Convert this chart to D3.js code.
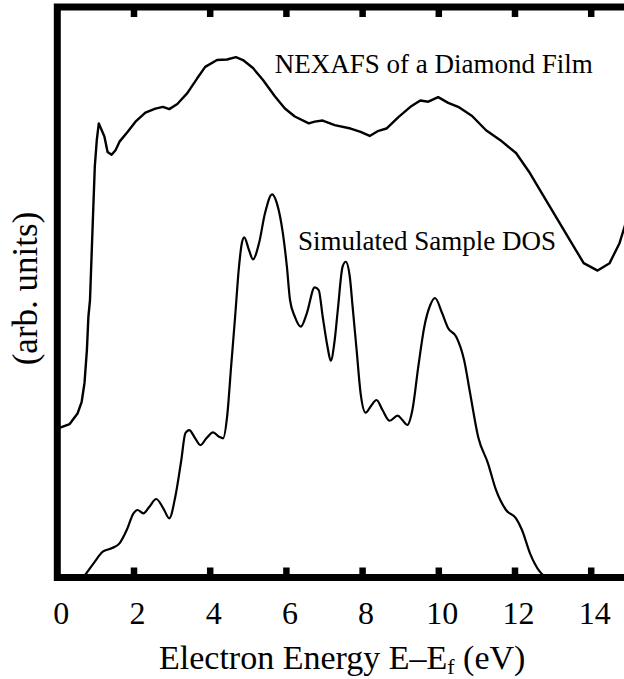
<!DOCTYPE html>
<html>
<head>
<meta charset="utf-8">
<script src="https://cdn.jsdelivr.net/npm/d3@7"></script>
<style>
  html, body { margin: 0; padding: 0; background: #fff; }
  svg { display: block; }
  text { font-family: "Liberation Serif", "Times New Roman", serif; fill: #000; }
</style>
</head>
<body>
<div id="chart"></div>
<script>
// ---- Data ----
const tickValuesX = [2, 4, 6, 8, 10, 12, 14];
const tickLabelsX = [0, 2, 4, 6, 8, 10, 12, 14];

// NEXAFS spectrum: energy (eV), intensity (arb.)
const nexafsE = [0, 0.325, 0.535, 0.64, 0.714, 0.777, 0.816, 0.858, 0.921, 0.984, 1.037, 1.089, 1.236, 1.32, 1.425, 1.528, 1.633, 1.843, 2.052, 2.312, 2.575, 2.774, 2.94, 3.15, 3.412, 3.672, 3.882, 4.192, 4.454, 4.688, 4.874, 5.136, 5.399, 5.714, 5.974, 6.234, 6.601, 6.756, 6.966, 7.281, 7.698, 7.961, 8.199, 8.43, 8.64, 8.953, 9.268, 9.528, 9.738, 9.997, 10.26, 10.522, 10.887, 11.252, 11.62, 12.04, 12.404, 12.822, 13.136, 13.449, 13.816, 14.181, 14.496, 14.756, 14.89, 15.03];
const nexafsI = [26.1, 26.9, 28.8, 30.8, 34.1, 39.9, 45.7, 48.6, 60.4, 72.0, 76.7, 79.6, 77.3, 74.6, 74.1, 74.9, 76.4, 78.1, 79.9, 81.5, 82.2, 82.5, 82.1, 83.0, 84.9, 87.5, 89.5, 90.7, 90.8, 91.2, 90.7, 89.3, 87.2, 84.3, 82.2, 80.8, 79.6, 79.9, 80.1, 79.3, 78.7, 78.1, 77.4, 78.3, 78.7, 80.7, 82.5, 83.6, 83.4, 84.2, 83.2, 82.5, 80.9, 78.4, 76.7, 74.4, 70.9, 66.2, 62.7, 59.2, 55.1, 53.8, 55.1, 58.6, 61.5, 64.4];

// Simulated sample DOS: energy (eV), intensity (arb.)
const dosE = [0.693, 0.953, 1.194, 1.425, 1.633, 1.822, 2.0, 2.105, 2.26, 2.417, 2.596, 2.782, 2.94, 3.097, 3.255, 3.36, 3.462, 3.619, 3.756, 3.913, 4.089, 4.247, 4.352, 4.457, 4.562, 4.667, 4.769, 4.843, 4.906, 5.031, 5.136, 5.294, 5.451, 5.638, 5.764, 5.921, 6.026, 6.108, 6.234, 6.391, 6.549, 6.756, 6.861, 6.966, 7.092, 7.176, 7.281, 7.362, 7.488, 7.572, 7.677, 7.751, 7.856, 7.961, 8.094, 8.22, 8.378, 8.535, 8.722, 8.932, 9.058, 9.184, 9.32, 9.475, 9.633, 9.79, 9.913, 10.102, 10.26, 10.47, 10.677, 10.835, 11.045, 11.304, 11.514, 11.777, 12.04, 12.197, 12.407, 12.664, 12.8];
const dosI = [0.1, 2.49, 4.52, 5.12, 5.99, 8.33, 11.25, 11.83, 11.25, 12.41, 13.76, 12.13, 10.38, 14.16, 20.6, 25.28, 25.85, 24.4, 23.2, 24.4, 25.45, 24.68, 24.4, 28.19, 36.95, 45.71, 54.48, 58.58, 59.63, 57.4, 55.78, 58.58, 63.84, 67.17, 65.59, 60.33, 54.48, 48.64, 45.71, 43.96, 46.31, 50.87, 50.39, 45.71, 40.46, 38.0, 41.63, 46.89, 54.48, 55.35, 52.72, 47.47, 39.88, 32.29, 28.89, 29.94, 31.11, 29.36, 27.48, 28.36, 27.61, 26.73, 29.36, 36.95, 43.96, 47.77, 48.99, 46.31, 43.68, 42.21, 38.12, 32.29, 24.68, 20.02, 15.34, 11.83, 10.38, 8.33, 4.24, 1.02, 0.1];

const labelTexts = ["NEXAFS of a Diamond Film", "Simulated Sample DOS"];
const labelE = [5.71, 6.32];
const labelI = [88.4, 57.4];

const yAxisLabel = "(arb. units)";

// ---- Layout ----
const W = 624, H = 679;
const x = d3.scaleLinear().domain([0, 15.2]).range([57.3, 57.3 + 38.1 * 15.2]);
const y = d3.scaleLinear().domain([0, 100]).range([577.5, 7]);

const svg = d3.select("#chart").append("svg")
  .attr("width", W).attr("height", H);

const nexafs = nexafsE.map((e, i) => [e, nexafsI[i]]);
const dos = dosE.map((e, i) => [e, dosI[i]]);

// Curves
svg.append("path")
  .datum(nexafs)
  .attr("fill", "none").attr("stroke", "#000").attr("stroke-width", 2.4)
  .attr("stroke-linejoin", "round")
  .attr("d", d3.line().x(d => x(d[0])).y(d => y(d[1])).curve(d3.curveLinear));

svg.append("path")
  .datum(dos)
  .attr("fill", "none").attr("stroke", "#000").attr("stroke-width", 2.2)
  .attr("d", d3.line().x(d => x(d[0])).y(d => y(d[1])).curve(d3.curveMonotoneX));

// Frame (left, top, bottom visible; right edge falls outside the canvas)
svg.append("rect")
  .attr("x", x(0)).attr("y", y(100))
  .attr("width", x(15.2) - x(0)).attr("height", y(0) - y(100))
  .attr("fill", "none").attr("stroke", "#000").attr("stroke-width", 7);

// Inward ticks, bottom and top
const tickLen = 10;
const bottomTicks = d3.axisBottom(x).tickValues(tickValuesX).tickSize(-tickLen).tickFormat("");
const topTicks = d3.axisTop(x).tickValues(tickValuesX).tickSize(-tickLen).tickFormat("");
const gb = svg.append("g").attr("transform", `translate(0,${y(0)})`).call(bottomTicks);
const gt = svg.append("g").attr("transform", `translate(0,${y(100)})`).call(topTicks);
[gb, gt].forEach(g => {
  g.select(".domain").remove();
  g.selectAll(".tick line").attr("stroke", "#000").attr("stroke-width", 6.5);
});

// Tick labels
const labelAxis = d3.axisBottom(x).tickValues(tickLabelsX).tickSize(0).tickFormat(d3.format("d"));
const gl = svg.append("g").attr("transform", `translate(0,${y(0)})`).call(labelAxis);
gl.select(".domain").remove();
gl.selectAll(".tick text")
  .attr("y", 46.5).attr("dy", 0).attr("dx", 3.5)
  .style("font-family", '"Liberation Serif", "Times New Roman", serif')
  .style("font-size", "32px").attr("fill", "#000");

// X-axis title
const xt = svg.append("text")
  .attr("x", 159).attr("y", 669)
  .style("font-size", "34px");
xt.append("tspan").text("Electron Energy E\u2013E");
xt.append("tspan").text("f").attr("dy", 5).style("font-size", "22px");
xt.append("tspan").text(" (eV)").attr("dy", -5);

// Y-axis title
svg.append("text")
  .attr("transform", "translate(37,288.5) rotate(-90)")
  .attr("text-anchor", "middle")
  .style("font-size", "35px")
  .text(yAxisLabel);

// Curve annotations
labelTexts.forEach((t, i) => {
  svg.append("text")
    .attr("x", x(labelE[i])).attr("y", y(labelI[i]))
    .style("font-size", "27px")
    .text(t);
});
</script>
</body>
</html>
